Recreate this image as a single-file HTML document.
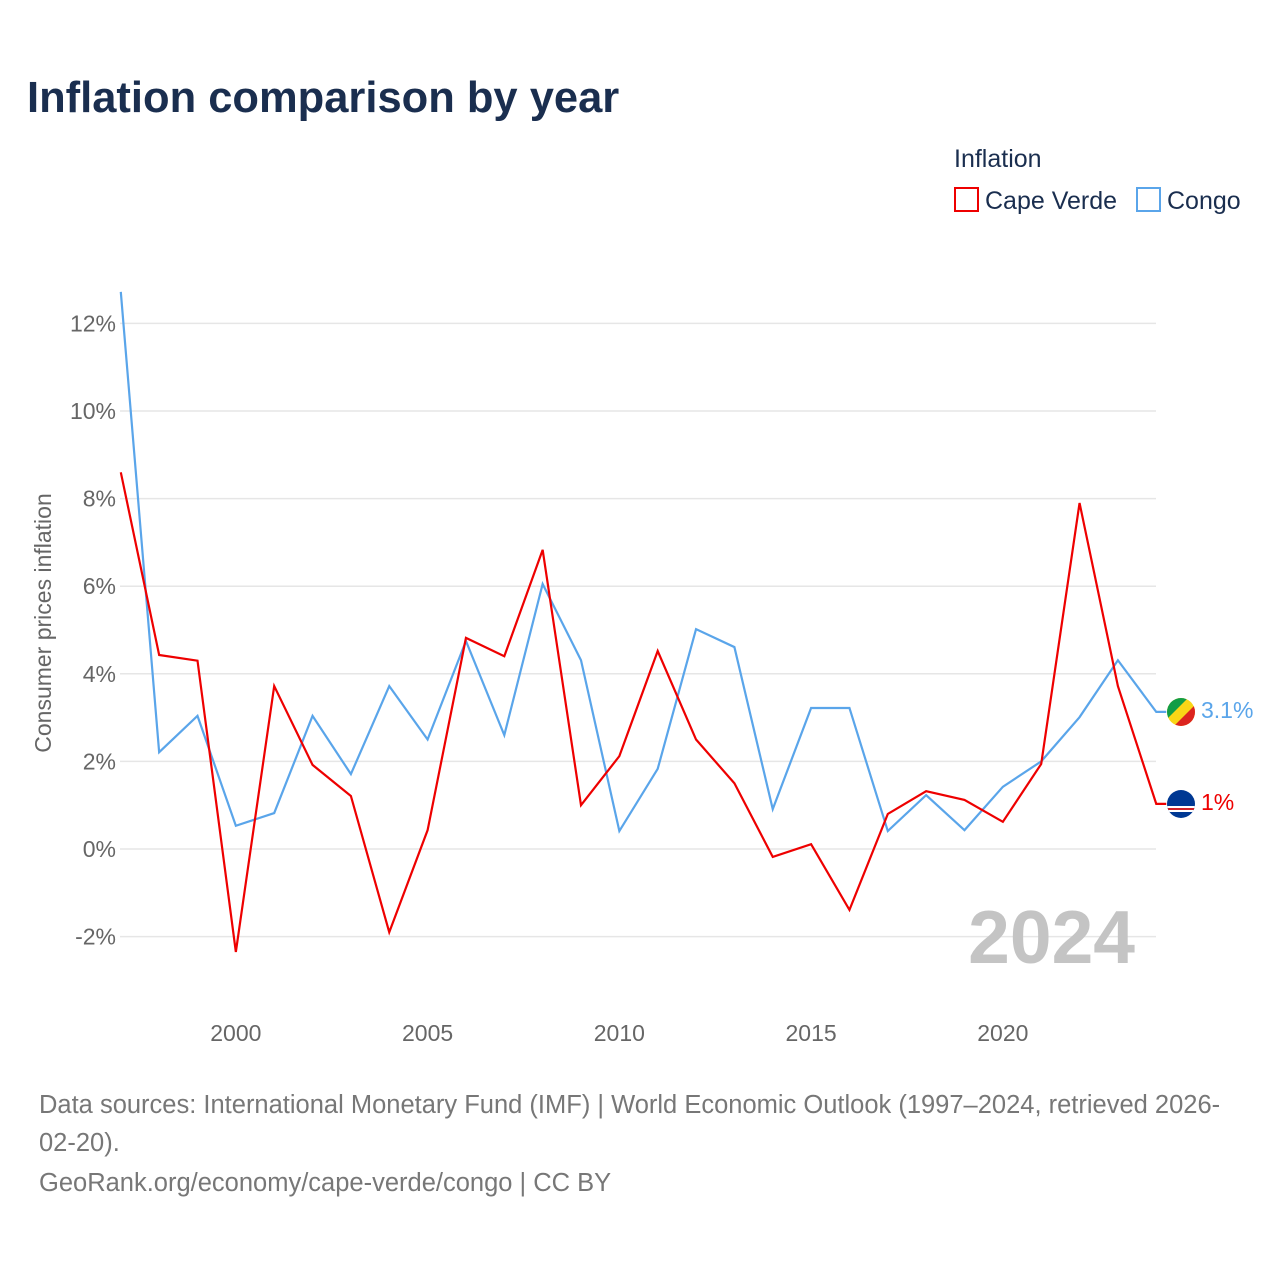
<!DOCTYPE html>
<html><head><meta charset="utf-8"><style>
body{margin:0;background:#fff;font-family:"Liberation Sans",sans-serif;}
svg{display:block}
</style></head><body>
<svg id="chart" width="1280" height="1280" viewBox="0 0 1280 1280">
<text x="27" y="112" font-size="43.5" font-weight="bold" fill="#1a2e4f">Inflation comparison by year</text>
<text x="954" y="167" font-size="25" fill="#1a2e4f">Inflation</text>
<g><rect x="955" y="188" width="23" height="23" fill="none" stroke="#ee0000" stroke-width="2"/><text x="985" y="209" font-size="25" fill="#1a2e4f">Cape Verde</text></g>
<g><rect x="1137" y="188" width="23" height="23" fill="none" stroke="#5aa5ea" stroke-width="2"/><text x="1167" y="209" font-size="25" fill="#1a2e4f">Congo</text></g>
<g id="grid"></g><g id="yticks"></g><g id="xticks"></g>
<text transform="translate(51,623) rotate(-90)" text-anchor="middle" font-size="23" fill="#666">Consumer prices inflation</text>
<text x="1135" y="963" text-anchor="end" font-size="75" font-weight="bold" fill="#c4c4c4">2024</text>
<g id="lines"></g>
<g><clipPath id="c1"><circle cx="1181" cy="712" r="14"/></clipPath><g clip-path="url(#c1)"><rect x="1167" y="698" width="28" height="28" fill="#f9d616"/><polygon points="1167,698 1188,698 1167,719" fill="#129d46"/><polygon points="1195,726 1174,726 1195,705" fill="#dc241f"/></g></g>
<g><clipPath id="c2"><circle cx="1181" cy="804" r="14"/></clipPath><g clip-path="url(#c2)"><rect x="1167" y="790" width="28" height="28" fill="#003893"/><rect x="1167" y="806" width="28" height="2" fill="#fff"/><rect x="1167" y="808" width="28" height="2" fill="#cf2027"/><rect x="1167" y="810" width="28" height="2" fill="#fff"/></g></g>
<text x="1201" y="718" font-size="23" fill="#5aa5ea">3.1%</text>
<text x="1201" y="810" font-size="23" fill="#ee0000">1%</text>
<text x="39" y="1113" font-size="25.5" fill="#777">Data sources: International Monetary Fund (IMF) | World Economic Outlook (1997–2024, retrieved 2026-</text>
<text x="39" y="1151" font-size="25.5" fill="#777">02-20).</text>
<text x="39" y="1191" font-size="25.5" fill="#777">GeoRank.org/economy/cape-verde/congo | CC BY</text>
</svg>
<script>
const years=[1997,1998,1999,2000,2001,2002,2003,2004,2005,2006,2007,2008,2009,2010,2011,2012,2013,2014,2015,2016,2017,2018,2019,2020,2021,2022,2023,2024];
const capeVerde=[8.6,4.43,4.3,-2.35,3.72,1.92,1.21,-1.9,0.43,4.82,4.4,6.83,1.0,2.12,4.52,2.5,1.5,-0.18,0.11,-1.39,0.8,1.32,1.12,0.62,1.94,7.9,3.72,1.03];
const congo=[12.72,2.21,3.04,0.53,0.82,3.04,1.71,3.72,2.5,4.75,2.6,6.05,4.31,0.41,1.83,5.02,4.61,0.91,3.22,3.22,0.41,1.23,0.43,1.42,2.0,3.01,4.31,3.13];
const yTicks=[-2,0,2,4,6,8,10,12];
const xTicks=[2000,2005,2010,2015,2020];
const NS="http://www.w3.org/2000/svg";
const x=v=>120.8+(v-1997)*38.35;
const y=v=>849-v*43.8;
function mk(t,a,p){const e=document.createElementNS(NS,t);for(const k in a)e.setAttribute(k,a[k]);p.appendChild(e);return e;}
const grid=document.getElementById('grid'),yt=document.getElementById('yticks'),xt=document.getElementById('xticks'),ln=document.getElementById('lines');
yTicks.forEach(v=>{
 const g=mk('line',{x1:120,x2:1156,y1:y(v),y2:y(v),stroke:'#e6e6e6','stroke-width':1.5},grid);
 
 
 const t=mk('text',{x:116,y:y(v)+8,'text-anchor':'end','font-size':23,fill:'#666'},yt);
 t.textContent=v+'%';
 
 
});
xTicks.forEach(v=>{
 const t=mk('text',{x:x(v),y:1041,'text-anchor':'middle','font-size':23,fill:'#666'},xt);
 t.textContent=v;
 
 
});
function line(vals,col,name){
 const pts=vals.map((v,i)=>x(years[i])+','+y(v));
 const last=vals[vals.length-1];
 pts.push((x(years[years.length-1])+10)+','+y(last));
 const p=mk('polyline',{points:pts.join(' '),fill:'none',stroke:col,'stroke-width':2.2,'stroke-linejoin':'miter'},ln);
 
 
}
line(congo,'#5aa5ea','congo-line');
line(capeVerde,'#ee0000','cape-verde-line');
</script>
</body></html>
